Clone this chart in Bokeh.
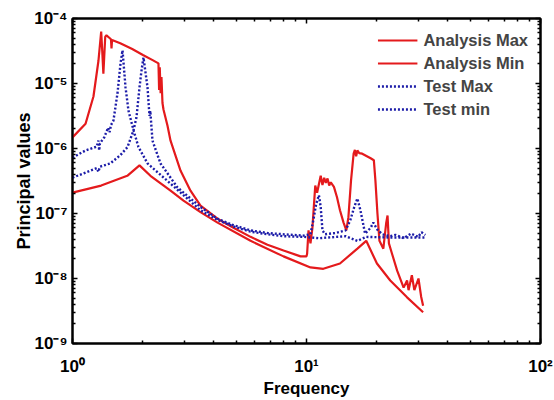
from bokeh.plotting import figure
from bokeh.models import LogAxis, FixedTicker, Legend, LegendItem, Range1d
from bokeh.embed import file_html
from bokeh.resources import INLINE

# ---- data ----
am_f = [1.0, 1.137, 1.229, 1.291, 1.326, 1.34, 1.355, 1.366, 1.38, 1.397, 1.44, 1.46, 1.468, 1.476,
        1.6, 1.8, 2.0, 2.2, 2.33, 2.345, 2.36, 2.38, 2.40, 2.424, 2.448, 2.547, 2.624, 2.894, 3.193,
        3.524, 4.167, 4.875, 5.765, 6.81, 7.975, 9.43, 10.0, 10.06, 10.2, 10.4, 10.6, 10.9, 11.1,
        11.5, 11.7, 11.9, 12.1, 12.3, 12.5, 12.7, 13.1, 13.5, 13.9, 14.4, 14.8, 15.1, 15.5, 15.9,
        16.1, 16.3, 16.5, 16.8, 17.3, 18.8, 19.4, 19.7, 20.1, 20.5, 21.3, 21.9, 22.2, 22.5, 23.2,
        24.4, 26.0, 26.9, 27.3, 28.2, 28.9, 30.1, 30.9, 31.5]
am_v = [1.48e-6, 2.40e-6, 6.31e-6, 2.24e-5, 6.31e-5, 3.16e-5, 1.41e-5, 2.51e-5, 5.25e-5, 5.50e-5,
        5.01e-5, 4.79e-5, 3.47e-5, 4.68e-5, 4.17e-5, 3.39e-5, 2.75e-5, 2.29e-5, 2.04e-5, 7.94e-6,
        1.78e-5, 7.08e-6, 1.26e-5, 5.01e-6, 3.98e-6, 2.24e-6, 1.32e-6, 4.57e-7, 2.24e-7, 1.32e-7,
        8.32e-8, 6.03e-8, 4.37e-8, 3.31e-8, 2.69e-8, 2.19e-8, 2.19e-8, 2.40e-8, 5.50e-8, 3.47e-8,
        6.03e-8, 2.69e-7, 2.09e-7, 3.80e-7, 2.75e-7, 3.55e-7, 2.95e-7, 3.47e-7, 2.69e-7, 3.02e-7,
        2.57e-7, 1.78e-7, 1.12e-7, 7.24e-8, 5.50e-8, 8.71e-8, 3.24e-7, 8.32e-7, 9.50e-7, 7.60e-7,
        9.33e-7, 8.50e-7, 8.32e-7, 7.08e-7, 6.61e-7, 3.24e-7, 1.0e-7, 3.80e-8, 2.88e-8, 7.08e-8,
        9.33e-8, 3.47e-8, 2.40e-8, 1.32e-8, 7.24e-9, 9.33e-9, 6.61e-9, 1.12e-8, 6.61e-9, 1.0e-8,
        5.25e-9, 3.80e-9]

an_f = [1.0, 1.326, 1.714, 1.933, 2.153, 2.624, 2.981, 3.524, 4.167, 5.765, 7.975, 10.4, 11.8,
        13.9, 16.5, 18.0, 20.0, 22.8, 26.9, 31.5]
an_v = [2.09e-7, 2.69e-7, 3.80e-7, 5.50e-7, 3.80e-7, 2.24e-7, 1.58e-7, 1.05e-7, 7.24e-8, 3.80e-8,
        2.19e-8, 1.48e-8, 1.41e-8, 1.70e-8, 2.88e-8, 3.80e-8, 1.70e-8, 9.33e-9, 5.13e-9, 3.02e-9]

tm_f = [1.0, 1.137, 1.27, 1.29, 1.30, 1.31, 1.366, 1.42, 1.44, 1.46, 1.496, 1.557, 1.604, 1.636,
        1.685, 1.735, 1.823, 1.877, 1.933, 1.972, 2.011, 2.092, 2.133, 2.15, 2.17, 2.197, 2.377,
        2.811, 3.524, 4.167, 4.875, 5.765, 6.81, 7.975, 9.72, 10.4, 10.7, 11.0, 11.3, 11.5, 11.7,
        12.0, 13.3, 14.7, 15.4, 16.0, 16.5, 17.0, 17.8, 18.8, 19.3, 20.1, 21.1, 22.8, 24.0, 26.0,
        28.0, 30.0, 31.0, 32.2]
tm_v = [7.24e-7, 9.33e-7, 1.07e-6, 1.32e-6, 9.33e-7, 1.20e-6, 1.48e-6, 2.09e-6, 1.78e-6, 2.29e-6,
        2.69e-6, 7.08e-6, 2.04e-5, 3.24e-5, 8.71e-6, 3.80e-6, 1.91e-6, 3.02e-6, 8.71e-6, 1.58e-5,
        2.51e-5, 8.71e-6, 3.16e-6, 3.80e-6, 2.40e-6, 1.32e-6, 5.89e-7, 2.51e-7, 1.26e-7, 8.32e-8,
        6.61e-8, 5.50e-8, 5.01e-8, 4.79e-8, 4.57e-8, 4.79e-8, 7.94e-8, 1.41e-7, 1.91e-7, 1.26e-7,
        5.50e-8, 4.79e-8, 5.01e-8, 5.50e-8, 7.94e-8, 1.26e-7, 1.70e-7, 1.12e-7, 4.90e-8, 6.03e-8,
        7.24e-8, 5.62e-8, 4.79e-8, 4.47e-8, 4.68e-8, 4.17e-8, 4.90e-8, 4.37e-8, 5.13e-8, 4.68e-8]

tn_f = [1.0, 1.137, 1.27, 1.29, 1.31, 1.45, 1.604, 1.718, 1.823, 1.914, 2.092, 2.624, 3.524, 4.167,
        4.875, 5.765, 6.81, 7.975, 9.72, 11.3, 14.7, 16.5, 18.0, 22.8, 32.2]
tn_v = [3.55e-7, 4.27e-7, 5.01e-7, 4.37e-7, 5.25e-7, 5.89e-7, 7.94e-7, 1.05e-6, 1.91e-6, 1.05e-6,
        5.89e-7, 2.88e-7, 1.12e-7, 7.94e-8, 6.31e-8, 5.25e-8, 4.79e-8, 4.47e-8, 4.37e-8, 4.17e-8,
        4.47e-8, 3.80e-8, 4.37e-8, 4.27e-8, 4.27e-8]

x_major = [1, 10, 100]
x_labels = ["10\u2070", "10\u00b9", "10\u00b2"]
y_major = [1e-9, 1e-8, 1e-7, 1e-6, 1e-5, 1e-4]
y_labels = ["10\u207b\u2079", "10\u207b\u2078", "10\u207b\u2077", "10\u207b\u2076", "10\u207b\u2075", "10\u207b\u2074"]
series_names = ["Analysis Max", "Analysis Min", "Test Max", "Test min"]

RED = "#e41a1c"
BLUE = "#1c1ca8"
FONT = "Liberation Sans"

x_minor = [m * d for d in [1, 10] for m in range(2, 10)]
y_minor = [m * d for d in y_major[:-1] for m in range(2, 10)]

p = figure(width=554, height=400, x_axis_type="log", y_axis_type="log",
           x_range=Range1d(1, 100), y_range=Range1d(1e-9, 1e-4),
           output_backend="svg", toolbar_location=None,
           min_border_left=72, min_border_right=14, min_border_top=18, min_border_bottom=57)
p.grid.visible = False
p.outline_line_color = "black"
p.outline_line_width = 2
p.background_fill_color = "white"
p.border_fill_color = "white"

r1 = p.line(am_f, am_v, line_color=RED, line_width=2.2)
r2 = p.line(an_f, an_v, line_color=RED, line_width=2.2)
r3 = p.line(tm_f, tm_v, line_color=BLUE, line_width=2.4, line_dash="2 2")
r4 = p.line(tn_f, tn_v, line_color=BLUE, line_width=2.4, line_dash="2 2")

def style(ax):
    ax.axis_line_color = "black"
    ax.axis_line_width = 2
    ax.major_tick_in = 5
    ax.major_tick_out = 0
    ax.minor_tick_in = 3
    ax.minor_tick_out = 0
    ax.major_tick_line_width = 1.5
    ax.minor_tick_line_width = 1.5
    ax.major_tick_line_color = "black"
    ax.minor_tick_line_color = "black"
    ax.major_label_text_font = FONT
    ax.major_label_text_font_style = "bold"
    ax.major_label_text_font_size = "17px"
    ax.major_label_text_color = "black"
    ax.axis_label_text_font = FONT
    ax.axis_label_text_font_style = "bold"
    ax.axis_label_text_font_size = "17px"
    ax.axis_label_text_color = "black"

xa = p.xaxis[0]
ya = p.yaxis[0]
xa.ticker = FixedTicker(ticks=x_major, minor_ticks=x_minor)
ya.ticker = FixedTicker(ticks=y_major, minor_ticks=y_minor)
style(xa)
style(ya)
ya.axis_label_text_font_size = "18px"
xa.major_label_overrides = dict(zip(x_major, x_labels))
ya.major_label_overrides = dict(zip(y_major, y_labels))
xa.axis_label = "Frequency"
ya.axis_label = "Principal values"
xa.major_label_standoff = 13
ya.major_label_standoff = 5
xa.axis_label_standoff = 0
ya.axis_label_standoff = -3

top = LogAxis(ticker=FixedTicker(ticks=x_major, minor_ticks=x_minor))
right = LogAxis(ticker=FixedTicker(ticks=y_major, minor_ticks=y_minor))
for ax in (top, right):
    style(ax)
    ax.major_label_text_font_size = "1px"
    ax.major_label_text_color = None
    ax.major_label_standoff = 0
p.add_layout(top, "above")
p.add_layout(right, "right")

legend = Legend(items=[LegendItem(label=series_names[0], renderers=[r1]),
                       LegendItem(label=series_names[1], renderers=[r2]),
                       LegendItem(label=series_names[2], renderers=[r3]),
                       LegendItem(label=series_names[3], renderers=[r4])],
                location="top_right", border_line_alpha=0, background_fill_color="white",
                background_fill_alpha=1, label_text_font=FONT, label_text_font_style="bold",
                label_text_font_size="16.5px", glyph_width=40, glyph_height=20, label_height=20,
                spacing=3, padding=4, margin=8, label_standoff=6)
p.add_layout(legend)

open("out.html", "w").write(file_html(p, INLINE))
